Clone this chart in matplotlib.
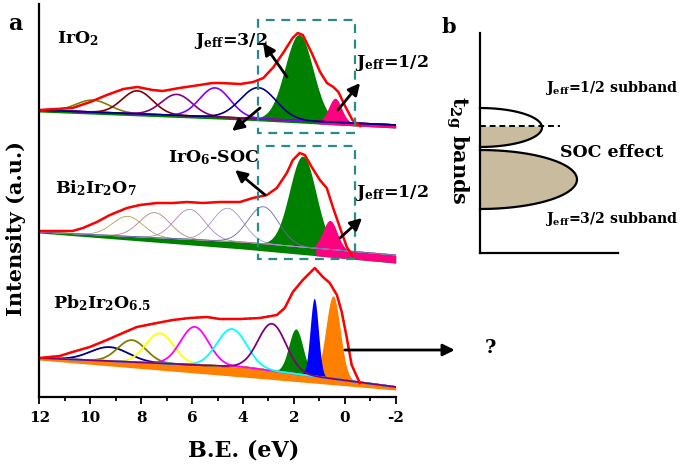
import numpy as np
import matplotlib
matplotlib.use('Agg')
import matplotlib.pyplot as plt
from matplotlib.patches import Rectangle

plt.rcParams['font.family'] = 'DejaVu Serif'
plt.rcParams['font.weight'] = 'bold'
plt.rcParams['axes.labelweight'] = 'bold'
plt.rcParams['mathtext.fontset'] = 'custom'
plt.rcParams['mathtext.rm'] = 'DejaVu Serif:bold'
plt.rcParams['mathtext.it'] = 'DejaVu Serif:bold'
plt.rcParams['mathtext.bf'] = 'DejaVu Serif:bold'
plt.rcParams['mathtext.default'] = 'rm'

# background knots (binding energy, eV)
bg_knots = [12, 4, -2]

# IrO2 (top trace): measured envelope + fitted components
iro2_be = [12.0, 10.7, 10.0, 9.35, 8.7, 8.15, 7.55, 7.15, 6.5, 5.7, 5.2, 4.9, 4.1, 3.6,
           3.2, 2.8, 2.4, 2.05, 1.85, 1.65, 1.3, 0.97, 0.7, 0.45, 0.25, -0.03, -0.3, -0.6]
iro2_int = [287, 289, 295, 302, 308, 310, 307, 306, 309, 312, 314, 314, 313, 315,
            319, 330, 345, 359, 364, 362, 344, 325, 314, 310, 305, 290, 277, 271]
iro2_bg_hi = [287, 279, 272]
iro2_bg_lo = [285, 277, 269]
iro2_pk_c = [9.9, 8.15, 6.6, 5.1, 3.4, 1.8, 0.38]
iro2_pk_h = [12, 23, 21, 29, 31, 86, 24]
iro2_pk_w = [0.65, 0.6, 0.6, 0.6, 0.7, 0.55, 0.25]

# Bi2Ir2O7 (middle trace)
bi_be = [12.0, 10.7, 10.29, 9.74, 9.23, 8.56, 8.05, 7.38, 6.75, 6.2, 5.58, 4.91, 4.12, 3.61,
         3.06, 2.67, 2.28, 2.04, 1.77, 1.57, 1.3, 0.98, 0.71, 0.47, 0.2, -0.08, -0.3]
bi_int = [166, 166, 169, 175, 182, 189, 192, 194, 194, 195, 194, 195, 195, 199,
          202, 209, 224, 237, 244, 242, 230, 217, 209, 190, 170, 150, 141]
bi_bg_hi = [165, 155, 142]
bi_bg_lo = [164, 148, 134]
bi_pk_c = [8.53, 7.47, 6.09, 4.6, 3.2, 1.65, 0.58]
bi_pk_h = [20, 25, 30, 33, 37, 91, 29]
bi_pk_w = [0.6, 0.6, 0.6, 0.6, 0.6, 0.52, 0.28]

# Pb2Ir2O6.5 (bottom trace)
pb_be = [12.0, 11.2, 10.7, 10.02, 9.35, 8.72, 8.17, 7.38, 6.76, 6.09, 5.42, 4.91, 4.12,
         3.34, 2.67, 2.36, 2.04, 1.65, 1.18, 0.86, 0.59, 0.31, 0.12, -0.08, -0.27, -0.59]
pb_int = [39, 41, 45, 50, 57, 64, 70, 74, 77, 79, 80, 78, 78,
          79, 82, 89, 105, 117, 129, 120, 114, 102, 85, 59, 32, 14]
pb_bg_hi = [39, 30, 10]
pb_bg_lo = [37, 20, 7]
pb_pk_c = [9.25, 8.37, 7.27, 5.9, 4.44, 2.86, 1.92, 1.2, 0.46]
pb_pk_h = [14, 22, 30, 38, 37.5, 47, 45, 78, 83]
pb_pk_w = [0.75, 0.55, 0.55, 0.55, 0.58, 0.55, 0.28, 0.16, 0.28]

xticks = [12, 10, 8, 6, 4, 2, 0, -2]

iro2_cols = ['#808000', '#800000', '#800080', '#8000ff', '#000080']
bi_cols = ['#a8a850', '#b88080', '#b080c0', '#a090e0', '#6868a8']
pb_cols = ['#000080', '#808000', '#ffff00', '#ff00ff', '#00ffff', '#800080']
green, pink, blue, orange = '#008000', '#ff0080', '#0000ff', '#ff8000'
box_col = '#2a8a8a'
tan = '#c9bb9d'

e = np.linspace(12, -2, 900)


def gauss(c, h, w):
    return h * np.exp(-(e - c) ** 2 / (2 * w ** 2))


def bg(vals):
    return np.interp(e, bg_knots[::-1], vals[::-1])


fig = plt.figure(figsize=(6.85, 4.68), dpi=100)
ax = fig.add_axes([39.4 / 685, 71 / 468, 356.3 / 685, 393 / 468])
ax.set_xlim(12, -2)
ax.set_ylim(0, 393)

# --- IrO2 ---
hi, lo = bg(iro2_bg_hi), bg(iro2_bg_lo)
g = [gauss(c, h, w) for c, h, w in zip(iro2_pk_c, iro2_pk_h, iro2_pk_w)]
ax.fill_between(e, lo, hi + g[5], color=green, lw=0)
ax.fill_between(e, lo, hi + g[6], where=e < 1.05, color=pink, lw=0)
for comp, col in zip(g[:5], iro2_cols):
    ax.plot(e, hi + comp, color=col, lw=1.2)
ax.plot(iro2_be, iro2_int, color='k', lw=1.0, ls=':')
ax.plot(iro2_be, iro2_int, color='#ff0000', lw=1.8)

# --- Bi2Ir2O7 ---
hi, lo = bg(bi_bg_hi), bg(bi_bg_lo)
g = [gauss(c, h, w) for c, h, w in zip(bi_pk_c, bi_pk_h, bi_pk_w)]
ax.fill_between(e, lo, hi + g[5], color=green, lw=0)
ax.fill_between(e, lo, hi + g[6], where=e < 1.15, color=pink, lw=0)
for comp, col in zip(g[:5], bi_cols):
    ax.plot(e, hi + comp, color=col, lw=0.6)
ax.plot(bi_be, bi_int, color='k', lw=1.0, ls=':')
ax.plot(bi_be, bi_int, color='#ff0000', lw=1.8)

# --- Pb2Ir2O6.5 ---
hi, lo = bg(pb_bg_hi), bg(pb_bg_lo)
g = [gauss(c, h, w) for c, h, w in zip(pb_pk_c, pb_pk_h, pb_pk_w)]
ax.fill_between(e, lo, hi + g[8], color=orange, lw=0)
ax.fill_between(e, hi, hi + g[6], where=g[6] > 0.3, color=green, lw=0)
ax.fill_between(e, hi, hi + g[7], where=g[7] > 0.3, color=blue, lw=0)
for comp, col in zip(g[:6], pb_cols):
    ax.plot(e, hi + comp, color=col, lw=1.3)
ax.plot(pb_be, pb_int, color='k', lw=1.2, ls=':')
ax.plot(pb_be, pb_int, color='#ff0000', lw=1.8)

# dashed boxes
for y0, y1 in [(264, 377), (138, 251)]:
    ax.add_patch(Rectangle((-0.4, y0), 3.81, y1 - y0, fill=False, ec=box_col,
                           lw=1.6, ls=(0, (4, 3)), zorder=5))

# arrows
arr = dict(arrowstyle='-|>,head_length=0.7,head_width=0.35', lw=2.0, color='k',
           shrinkA=0, shrinkB=0)
for tail, head in [((2.27, 320), (3.21, 354)), ((0.27, 287), (-0.6, 314)),
                   ((3.33, 289), (4.43, 266)), ((3.13, 202), (4.31, 227)),
                   ((0.19, 159), (-0.68, 179)), ((0.0, 47), (-4.32, 47))]:
    ax.annotate('', xy=head, xytext=tail, arrowprops=arr, annotation_clip=False, zorder=6)

fs = 12.5
ax.text(11.31, 354, 'IrO$_2$', fontsize=fs, va='baseline')
ax.text(5.93, 352, 'J$_{eff}$=3/2', fontsize=fs, va='baseline')
ax.text(-0.4, 330, 'J$_{eff}$=1/2', fontsize=fs, va='baseline')
ax.text(6.94, 235, 'IrO$_6$-SOC', fontsize=fs, va='baseline')
ax.text(11.39, 204, 'Bi$_2$Ir$_2$O$_7$', fontsize=fs, va='baseline')
ax.text(-0.4, 200, 'J$_{eff}$=1/2', fontsize=fs, va='baseline')
ax.text(11.47, 89, 'Pb$_2$Ir$_2$O$_{6.5}$', fontsize=fs, va='baseline')

# axes styling
for s in ['top', 'right']:
    ax.spines[s].set_visible(False)
ax.spines['left'].set_linewidth(1.6)
ax.spines['bottom'].set_linewidth(1.6)
ax.set_yticks([])
ax.set_xticks(xticks)
ax.set_xticklabels([str(t) for t in xticks])
ax.set_xticks(range(11, -2, -2), minor=True)
ax.tick_params(axis='x', which='major', direction='out', length=5, width=1.3,
               labelsize=11, pad=5)
ax.tick_params(axis='x', which='minor', direction='out', length=3, width=1.3)
ax.set_xlabel('B.E. (eV)', fontsize=16, va='center')
ax.xaxis.set_label_coords(0.574, -0.135)
ax.set_ylabel('Intensity (a.u.)', fontsize=15, va='center')
ax.yaxis.set_label_coords(-0.065, 0.43)

# overlay in pixel coordinates for panel labels and panel b
ov = fig.add_axes([0, 0, 1, 1])
ov.set_xlim(0, 685)
ov.set_ylim(468, 0)
ov.axis('off')
ov.patch.set_alpha(0)

ov.text(8, 30, 'a', fontsize=16, va='baseline')
ov.text(442, 33, 'b', fontsize=15, va='baseline')
ov.text(490, 348, '?', fontsize=14, ha='center', va='center')

ov.plot([480, 480], [33, 253], color='k', lw=1.6)
ov.plot([480, 618], [253, 253], color='k', lw=1.6)

t = np.linspace(-np.pi / 2, np.pi / 2, 200)
# J=1/2 subband (half filled below the Fermi level)
yy = np.linspace(126, 147, 60)
xx = 480 + 62 * np.sqrt(np.clip(1 - ((yy - 127.5) / 19.5) ** 2, 0, 1))
ov.fill_betweenx(yy, 480, xx, color=tan, lw=0)
ov.plot(480 + 62 * np.cos(t), 127.5 + 19.5 * np.sin(t), color='k', lw=1.6)
ov.plot([480, 560], [126, 126], color='k', lw=1.4, ls=(0, (3, 2)))
# J=3/2 subband (filled)
lx, ly = 480 + 97 * np.cos(t), 179.5 + 29.5 * np.sin(t)
ov.fill(lx, ly, color=tan, lw=0)
ov.plot(lx, ly, color='k', lw=1.6)

ov.text(545, 92, 'J$_{eff}$=1/2 subband', fontsize=10.2, va='baseline')
ov.text(560, 157, 'SOC effect', fontsize=12.5, va='baseline')
ov.text(545, 223, 'J$_{eff}$=3/2 subband', fontsize=10.2, va='baseline')
ov.text(457, 150, 't$_{2g}$ bands', fontsize=15, rotation=-90, ha='center', va='center')

fig.savefig('out.png', dpi=100)
